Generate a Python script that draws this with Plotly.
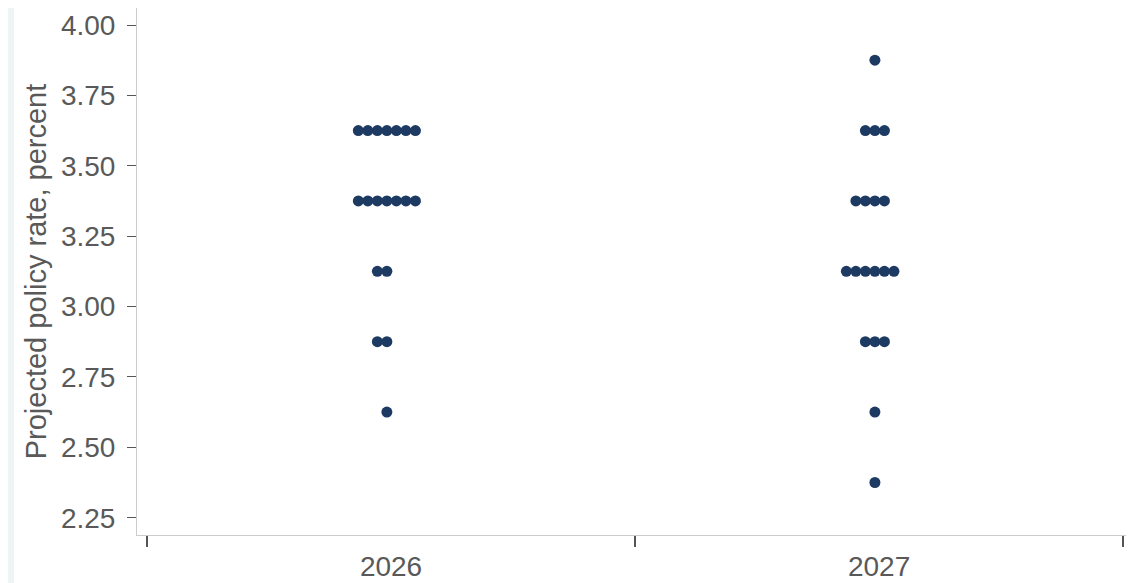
import plotly.graph_objects as go

# ---- data ----
years = ["2026", "2027"]
rates_2026 = [3.625] * 7 + [3.375] * 7 + [3.125] * 2 + [2.875] * 2 + [2.625] * 1
rates_2027 = [3.875] * 1 + [3.625] * 3 + [3.375] * 4 + [3.125] * 6 + [2.875] * 3 + [2.625] * 1 + [2.375] * 1
series = [rates_2026, rates_2027]
y_ticks = [2.25, 2.50, 2.75, 3.00, 3.25, 3.50, 3.75, 4.00]
y_tick_text = ["2.25", "2.50", "2.75", "3.00", "3.25", "3.50", "3.75", "4.00"]

# ---- styling constants ----
DOT_COLOR = "#1d3a62"
TEXT_COLOR = "#595959"
FONT = "Liberation Sans, Arial, sans-serif"
STEP = 0.0195      # horizontal spacing between stacked dots (x units)
SHIFT = -0.0085    # small left shift of dot groups

xs, ys = [], []
for i, vals in enumerate(series):
    counts = {}
    for v in vals:
        counts[v] = counts.get(v, 0) + 1
    for v, n in counts.items():
        for k in range(n):
            xs.append(i + SHIFT + (k - n // 2) * STEP)
            ys.append(v)

W, H = 1129, 575
ML, MR, MT, MB = 129, 11, 0, 48
PW, PH = W - ML - MR, H - MT - MB

fig = go.Figure()
fig.add_trace(go.Scatter(
    x=xs, y=ys, mode="markers",
    marker=dict(size=11, color=DOT_COLOR, line=dict(width=0)),
    hoverinfo="y", showlegend=False,
))

fig.update_layout(
    width=W, height=H,
    margin=dict(l=ML, r=MR, t=MT, b=MB, pad=0),
    paper_bgcolor="white", plot_bgcolor="white",
    font=dict(family=FONT, size=28, color=TEXT_COLOR),
    xaxis=dict(
        automargin=False,
        range=[-0.5205, 1.506],
        tickmode="array", tickvals=[0, 1], ticktext=years,
        ticks="outside", ticklen=6, tickcolor="rgba(0,0,0,0)",
        showgrid=False, zeroline=False,
        showline=True, linecolor="#cccccc", linewidth=1,
        minor=dict(tickmode="array", tickvals=[-0.5, 0.5, 1.5], ticks="outside",
                   ticklen=11, tickwidth=2, tickcolor="#555555", showgrid=False),
        tickfont=dict(size=28, color=TEXT_COLOR),
    ),
    yaxis=dict(
        automargin=False,
        range=[2.1885, 4.0604],
        tickmode="array", tickvals=y_ticks, ticktext=y_tick_text,
        ticks="outside", ticklen=9, tickwidth=1, tickcolor="#555555",
        showgrid=False, zeroline=False,
        showline=True, linecolor="#cccccc", linewidth=1,
        tickfont=dict(size=28, color=TEXT_COLOR),
        ticklabelstandoff=6,
        title=dict(text="Projected policy rate, percent",
                   font=dict(size=29, color=TEXT_COLOR), standoff=5),
    ),
    shapes=[dict(type="rect", xref="paper", yref="paper",
                 x0=-ML / PW, x1=(6 - ML) / PW, y0=-MB / PH, y1=1 + MT / PH,
                 fillcolor="#eef3f4", line=dict(width=0), layer="below")],
)

fig.write_html("out.html")
